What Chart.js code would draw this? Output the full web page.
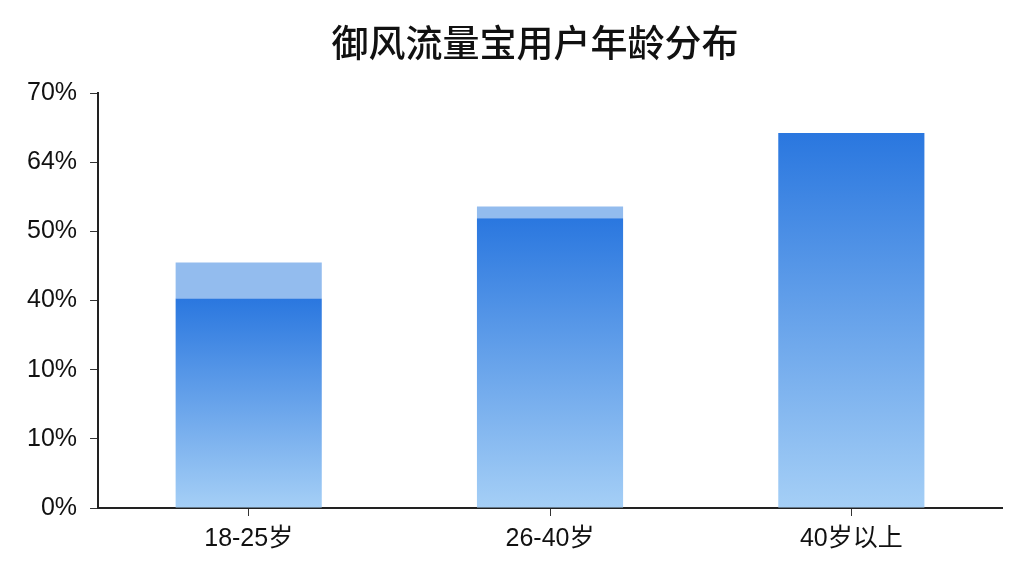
<!DOCTYPE html>
<html>
<head>
<meta charset="utf-8">
<script src="https://cdn.jsdelivr.net/npm/chart.js@4.4.0/dist/chart.umd.min.js"></script>
<style>
html,body{margin:0;padding:0;background:#fff;}
#wrap{width:1024px;height:576px;}
</style>
</head>
<body>
<div id="wrap"><canvas id="c" width="1024" height="576"></canvas></div>
<script>
const categories = ['18-25岁', '26-40岁', '40岁以上'];
const solidValues = [3.03, 4.19, 5.42];
const topValues = [0.52, 0.17, 0];
const tickLabels = ['0%', '10%', '10%', '40%', '50%', '64%', '70%'];
const chartTitle = '御风流量宝用户年龄分布';

const FONT = '"Liberation Sans", Arial, "Noto Sans CJK SC", sans-serif';

function solidGradient(context) {
  const chart = context.chart;
  const area = chart.chartArea;
  if (!area) return '#3a82e3';
  const v = context.raw;
  const yTop = chart.scales.y.getPixelForValue(v);
  const g = chart.ctx.createLinearGradient(0, area.bottom, 0, yTop);
  g.addColorStop(0, '#a5cff6');
  g.addColorStop(1, '#2a77df');
  return g;
}

const titlePlugin = {
  id: 'offsetTitle',
  afterDraw(chart) {
    const ctx = chart.ctx;
    ctx.save();
    ctx.font = '500 37px "Noto Sans CJK SC", sans-serif';
    ctx.fillStyle = '#111';
    ctx.textAlign = 'center';
    ctx.textBaseline = 'middle';
    ctx.fillText(chartTitle, chart.width * 0.5225, 43);
    ctx.restore();
  }
};

new Chart(document.getElementById('c'), {
  type: 'bar',
  data: {
    labels: categories,
    datasets: [
      {
        data: solidValues,
        backgroundColor: solidGradient,
        borderWidth: 0,
        barPercentage: 0.97,
        categoryPercentage: 0.5
      },
      {
        data: topValues,
        backgroundColor: '#93bcee',
        borderWidth: 0,
        barPercentage: 0.97,
        categoryPercentage: 0.5
      }
    ]
  },
  plugins: [titlePlugin],
  options: {
    responsive: false,
    devicePixelRatio: 1,
    animation: false,
    layout: { padding: { left: 14, right: 22, top: 93, bottom: 14 } },
    plugins: {
      legend: { display: false },
      tooltip: { enabled: false },
      title: { display: false }
    },
    scales: {
      x: {
        stacked: true,
        offset: true,
        grid: {
          offset: false,
          drawOnChartArea: false,
          drawTicks: true,
          tickLength: 8,
          color: '#333'
        },
        border: { display: true, color: '#222', width: 2 },
        ticks: {
          color: '#111',
          font: { family: FONT, size: 25 },
          padding: 8
        }
      },
      y: {
        stacked: true,
        min: 0,
        max: 6,
        grid: {
          drawOnChartArea: false,
          drawTicks: true,
          tickLength: 8,
          color: '#333'
        },
        border: { display: true, color: '#222', width: 2 },
        ticks: {
          stepSize: 1,
          color: '#111',
          font: { family: FONT, size: 25 },
          padding: 13,
          callback: function (value) { return tickLabels[value]; }
        }
      }
    }
  }
});
</script>
</body>
</html>
